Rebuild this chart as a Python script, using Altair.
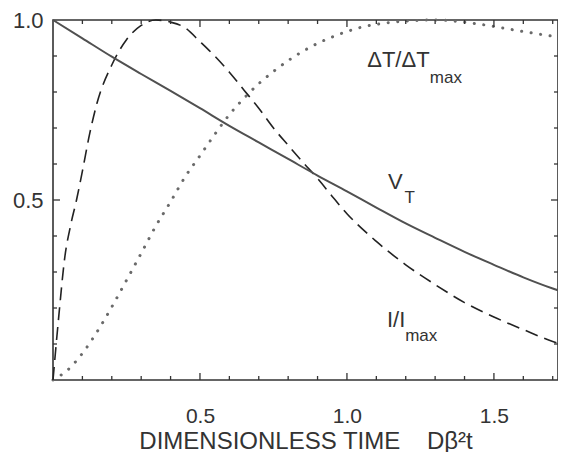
import altair as alt
import pandas as pd

# ---- data ----
vt_x = [0, 0.1, 0.2, 0.3, 0.4, 0.5, 0.6, 0.7, 0.8, 0.9, 1.0, 1.1, 1.2, 1.3, 1.4, 1.5, 1.6, 1.7, 1.718]
vt_y = [1.0, 0.949, 0.898, 0.850, 0.803, 0.755, 0.706, 0.660, 0.614, 0.568, 0.524, 0.479, 0.435, 0.395, 0.356, 0.320, 0.285, 0.254, 0.249]

i_x = [0, 0.02, 0.04, 0.06, 0.08, 0.1, 0.125, 0.15, 0.2, 0.25, 0.3, 0.35, 0.4, 0.45, 0.5, 0.55, 0.6, 0.65,
       0.7, 0.75, 0.8, 0.85, 0.9, 0.95, 1.0, 1.1, 1.2, 1.3, 1.4, 1.5, 1.6, 1.7, 1.718]
i_y = [0, 0.18, 0.34, 0.43, 0.50, 0.58, 0.685, 0.77, 0.875, 0.945, 0.985, 1.0, 0.994, 0.978, 0.94, 0.90, 0.855, 0.805,
       0.755, 0.70, 0.652, 0.605, 0.56, 0.51, 0.462, 0.385, 0.32, 0.265, 0.215, 0.175, 0.14, 0.107, 0.102]

dt_x = [0, 0.05, 0.1, 0.15, 0.2, 0.25, 0.3, 0.35, 0.4, 0.45, 0.5, 0.55, 0.6, 0.65, 0.7, 0.75, 0.8, 0.85,
        0.9, 0.95, 1.0, 1.05, 1.1, 1.2, 1.3, 1.4, 1.5, 1.6, 1.7, 1.718]
dt_y = [0, 0.028, 0.074, 0.134, 0.203, 0.277, 0.352, 0.428, 0.495, 0.565, 0.623, 0.682, 0.737, 0.783, 0.823, 0.857, 0.887, 0.913,
        0.935, 0.953, 0.968, 0.980, 0.988, 0.997, 1.0, 0.994, 0.982, 0.968, 0.955, 0.953]

x_tick_labels = [0.5, 1.0, 1.5]
y_tick_labels = [0.5, 1.0]
x_minor = [0.1, 0.2, 0.3, 0.4, 0.6, 0.7, 0.8, 0.9, 1.1, 1.2, 1.3, 1.4, 1.6, 1.7]
x_major = [0.5, 1.0, 1.5]
y_minor = [0.1, 0.2, 0.3, 0.4, 0.6, 0.7, 0.8, 0.9]
y_major = [0.5]

main_text = ["ΔT/ΔT", "V", "I/I"]
main_x = [1.069, 1.140, 1.136]
main_y = [0.869, 0.531, 0.147]
sub_text = ["max", "T", "max"]
sub_x = [1.282, 1.196, 1.198]
sub_y = [0.825, 0.491, 0.108]

x_title = "DIMENSIONLESS TIME\u00a0\u00a0\u00a0\u00a0Dβ²t"

# ---- chart ----
W, H = 505, 360
FONT = "Liberation Sans"
INK = "#333333"

xs = alt.Scale(domain=[0, 1.718], nice=False, zero=False)
ys = alt.Scale(domain=[0, 1], nice=False, zero=False)

xaxis = alt.Axis(values=x_tick_labels, format=".1f", domain=False, ticks=False, tickSize=0, grid=False,
                 labelFont=FONT, labelFontSize=21, labelColor=INK, labelPadding=25,
                 title=x_title, titleFont=FONT, titleFontSize=24, titleFontWeight="normal",
                 titleColor=INK, titleBaseline="alphabetic", titleY=68)
yaxis = alt.Axis(values=y_tick_labels, format=".1f", domain=False, ticks=False, tickSize=0, grid=False,
                 labelFont=FONT, labelFontSize=22, labelColor=INK, labelPadding=10, title=None)


def line(xv, yv, **kw):
    df = pd.DataFrame({"x": xv, "y": yv})
    return alt.Chart(df).mark_line(interpolate="monotone", **kw).encode(
        x=alt.X("x:Q", scale=xs, axis=xaxis),
        y=alt.Y("y:Q", scale=ys, axis=yaxis),
    )


vt_line = line(vt_x, vt_y, color="#505050", strokeWidth=2)
i_line = line(i_x, i_y, color="#222222", strokeWidth=1.6, strokeDash=[13, 7])
dt_line = line(dt_x, dt_y, color="#6a6a6a", strokeWidth=3, strokeDash=[0.1, 9.5], strokeCap="round")


def xticks(vals, y0, y1):
    return alt.Chart(pd.DataFrame({"v": vals})).mark_rule(color=INK, strokeWidth=1.3).encode(
        x=alt.X("v:Q", scale=xs, axis=xaxis), y=alt.value(y0), y2=alt.value(y1))


def yticks(vals, x0, x1):
    return alt.Chart(pd.DataFrame({"v": vals})).mark_rule(color=INK, strokeWidth=1.3).encode(
        y=alt.Y("v:Q", scale=ys, axis=yaxis), x=alt.value(x0), x2=alt.value(x1))


ticks = [
    xticks(x_minor, H, H - 4), xticks(x_major, H, H - 7),
    xticks(x_minor, 0, 4), xticks(x_major, 0, 7),
    yticks(y_minor, 0, 4), yticks(y_major, 0, 7),
    yticks(y_minor, W, W - 4), yticks(y_major, W, W - 7),
]


def texts(t, xv, yv, size):
    df = pd.DataFrame({"t": t, "x": xv, "y": yv})
    return alt.Chart(df).mark_text(align="left", baseline="alphabetic", font=FONT,
                                   fontSize=size, color=INK).encode(
        x=alt.X("x:Q", scale=xs, axis=xaxis),
        y=alt.Y("y:Q", scale=ys, axis=yaxis),
        text="t:N",
    )


chart = alt.layer(
    dt_line, i_line, vt_line, *ticks,
    texts(main_text, main_x, main_y, 22),
    texts(sub_text, sub_x, sub_y, 17),
).properties(
    width=W, height=H,
    autosize=alt.AutoSizeParams(type="none"),
    padding={"left": 45, "top": 12, "right": 0, "bottom": 72},
    background="white",
).configure_view(stroke=INK, strokeWidth=1.6)

chart.save("out.html", embed_options={"renderer": "svg", "actions": False})
